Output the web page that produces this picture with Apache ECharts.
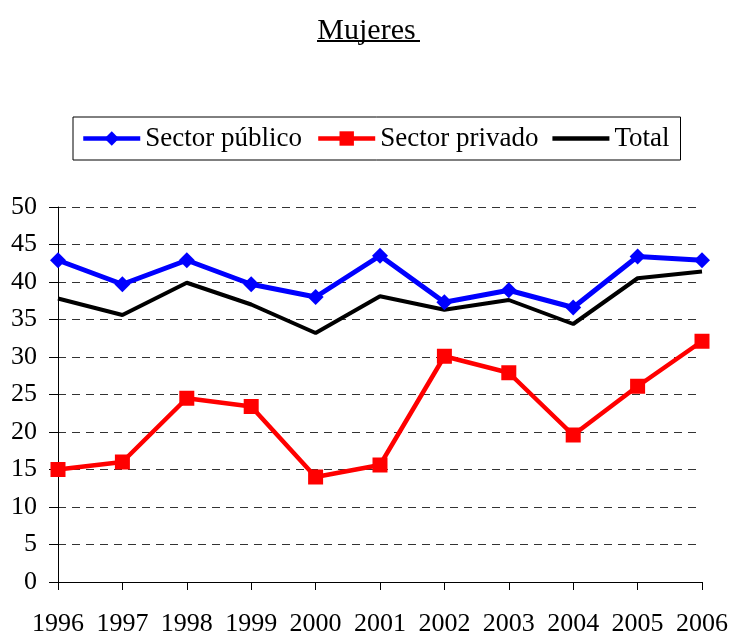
<!DOCTYPE html>
<html>
<head>
<meta charset="utf-8">
<script src="https://cdn.jsdelivr.net/npm/echarts@6/dist/echarts.min.js"></script>
<style>
  html, body { margin: 0; padding: 0; background: #fff; }
  #chart { width: 733px; height: 637px; }
</style>
</head>
<body>
<div id="chart"></div>
<script>
var years = ['1996', '1997', '1998', '1999', '2000', '2001', '2002', '2003', '2004', '2005', '2006'];
var publico = [42.9, 39.7, 42.9, 39.7, 38.0, 43.5, 37.3, 38.9, 36.6, 43.4, 42.9];
var privado = [15.0, 16.0, 24.5, 23.4, 14.0, 15.6, 30.1, 27.9, 19.6, 26.1, 32.1];
var total = [37.8, 35.6, 39.9, 37.0, 33.2, 38.1, 36.3, 37.6, 34.4, 40.5, 41.4];

var font = '"Liberation Serif", "Times New Roman", serif';

var chart = echarts.init(document.getElementById('chart'));

var makeSerie = function (name, data, color, symbol, size, width) {
  return {
    name: name,
    type: 'line',
    data: data,
    symbol: symbol,
    symbolSize: size,
    showAllSymbol: true,
    itemStyle: { color: color },
    lineStyle: { color: color, width: width },
    emphasis: { disabled: true },
    animation: false
  };
};

chart.setOption({
  animation: false,
  textStyle: { fontFamily: font },
  title: {
    text: 'Mujeres',
    left: 'center',
    top: 11,
    textStyle: { fontFamily: font, fontSize: 30, fontWeight: 'normal', color: '#000' }
  },
  graphic: [{
    type: 'line',
    shape: { x1: 317, y1: 41, x2: 420, y2: 41 },
    style: { stroke: '#000', lineWidth: 2 }
  }],
  legend: {
    left: 73,
    top: 117,
    width: 620,
    padding: [8, 11, 8, 8],
    itemWidth: 57,
    itemHeight: 18,
    itemGap: 14,
    borderColor: '#000',
    borderWidth: 1,
    lineStyle: { width: 4.5 },
    textStyle: { fontFamily: font, fontSize: 27, color: '#000' },
    data: [
      { name: 'Sector público' },
      { name: 'Sector privado' },
      { name: 'Total', icon: 'path://M0,0 L57,0 L57,4.5 L0,4.5 Z' }
    ]
  },
  grid: { left: 58, right: 31, top: 207, bottom: 54 },
  xAxis: {
    type: 'category',
    data: years,
    boundaryGap: false,
    axisLine: { lineStyle: { color: '#000', width: 1 } },
    axisTick: { show: true, length: 8, lineStyle: { color: '#000' } },
    axisLabel: { color: '#000', fontSize: 26, fontFamily: font, margin: 29, interval: 0 },
    splitLine: { show: false }
  },
  yAxis: {
    type: 'value',
    min: 0,
    max: 50,
    interval: 5,
    axisLine: { show: true, lineStyle: { color: '#000', width: 1 } },
    axisTick: { show: true, length: 9, lineStyle: { color: '#000' } },
    axisLabel: { color: '#000', fontSize: 26, fontFamily: font, margin: 21 },
    splitLine: { show: true, lineStyle: { color: '#333', type: [8, 6], width: 1 } }
  },
  series: [
    makeSerie('Sector público', publico, '#0000ff', 'diamond', 16, 5),
    makeSerie('Sector privado', privado, '#ff0000', 'rect', 15, 4.5),
    makeSerie('Total', total, '#000000', 'none', 0, 4)
  ]
});
</script>
</body>
</html>
